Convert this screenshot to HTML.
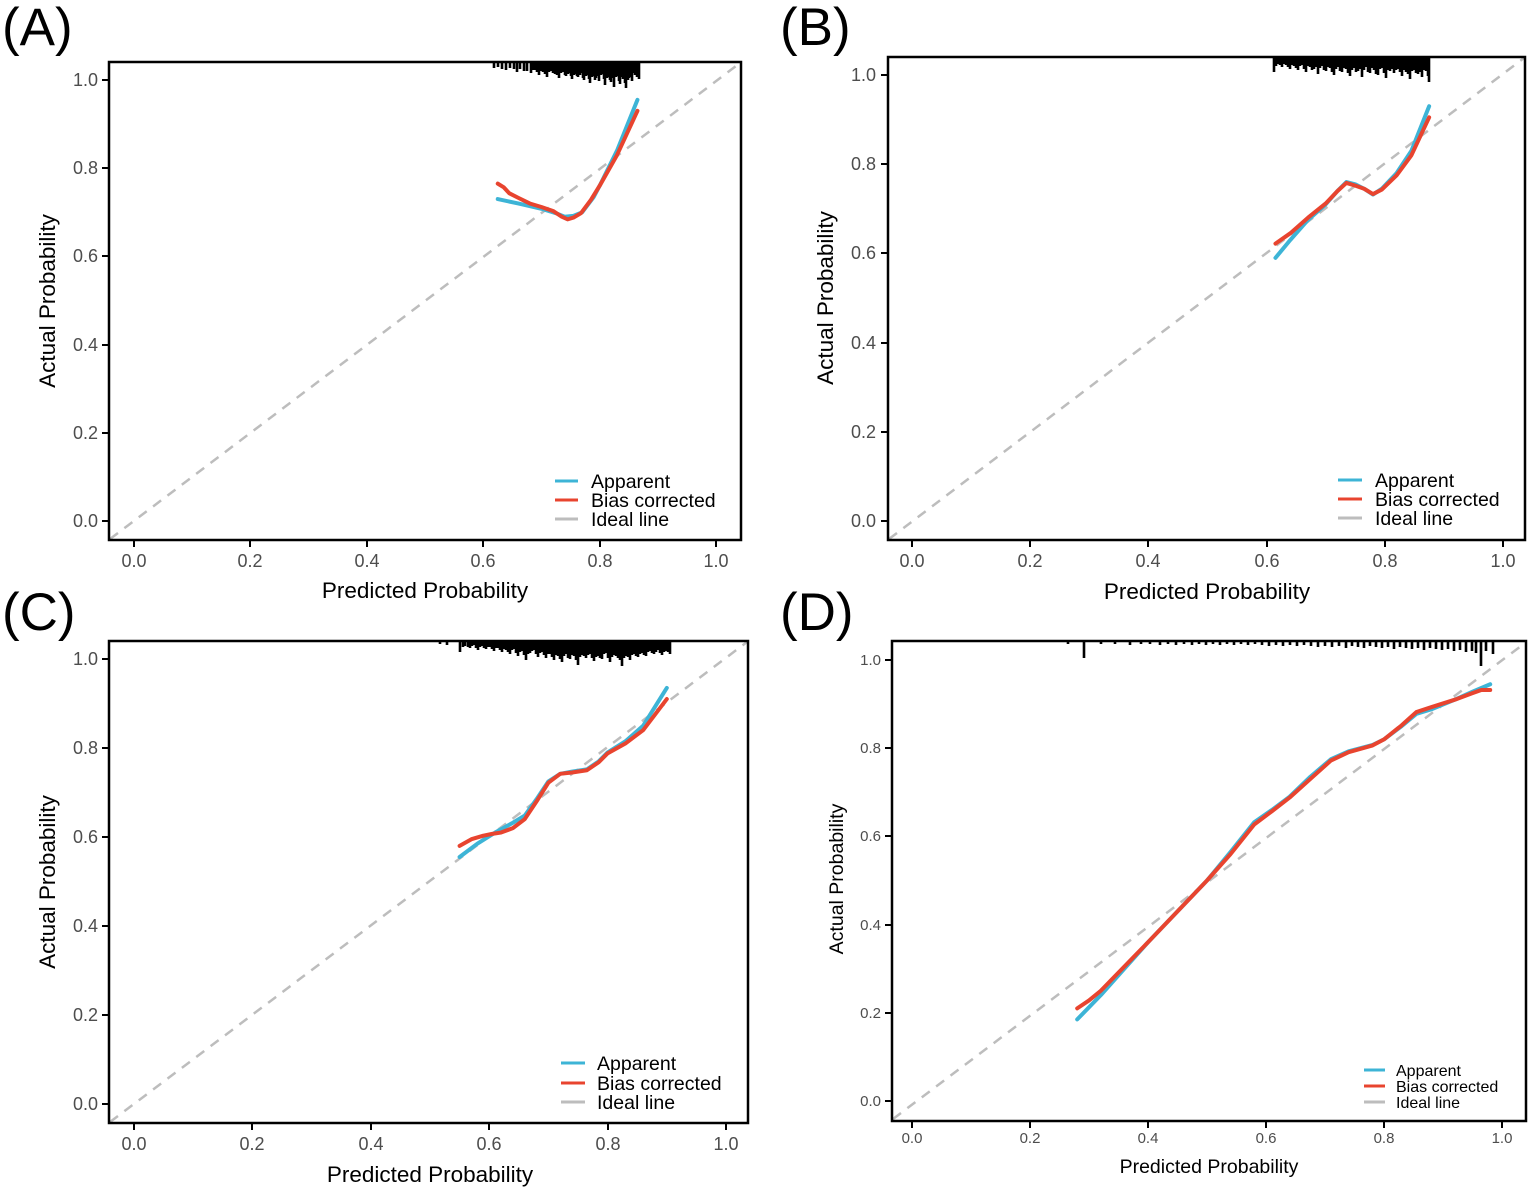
<!DOCTYPE html>
<html><head><meta charset="utf-8"><style>
html,body{margin:0;padding:0;background:#fff}
svg{display:block}
.t{font-family:"Liberation Sans",sans-serif;fill:#4d4d4d}
.l{font-family:"Liberation Sans",sans-serif;fill:#000}
</style></head><body>
<svg width="1535" height="1193" viewBox="0 0 1535 1193" xmlns="http://www.w3.org/2000/svg">
<defs>
<style>
.ap{fill:none;stroke:#3db4d6;stroke-width:4;stroke-linejoin:round;stroke-linecap:round}
.bc{fill:none;stroke:#e8442f;stroke-width:4;stroke-linejoin:round;stroke-linecap:round}
.id{fill:none;stroke:#bdbdbd;stroke-width:2.5;stroke-dasharray:10 8}
.bx{fill:none;stroke:#000;stroke-width:2.5}
.tk{stroke:#000;stroke-width:2}
.rg{stroke:#000;stroke-width:2.6}
</style>
</defs>

<text class="l" x="2" y="45" font-size="53">(A)</text>
<text class="l" x="780" y="45" font-size="53">(B)</text>
<text class="l" x="2" y="630" font-size="53">(C)</text>
<text class="l" x="780" y="630" font-size="53">(D)</text>

<!-- Panel A -->
<g>
<line class="id" x1="110" y1="539" x2="740" y2="63"/>
<g transform="translate(134,521) scale(582,-441)">
<polyline vector-effect="non-scaling-stroke" class="ap" points="0.625,0.73 0.66,0.72 0.70,0.708 0.725,0.698 0.74,0.69 0.755,0.692 0.77,0.70 0.79,0.735 0.80,0.76 0.83,0.84 0.865,0.955"/>
<polyline vector-effect="non-scaling-stroke" class="bc" points="0.625,0.765 0.635,0.757 0.645,0.743 0.66,0.733 0.68,0.72 0.70,0.712 0.72,0.703 0.735,0.69 0.745,0.684 0.755,0.688 0.768,0.698 0.785,0.728 0.80,0.76 0.83,0.83 0.865,0.93"/>
</g>
<path class="rg" d="M494 63v5M498 63v4M502 63v6M506 63v7M510 63v5M514 63v6M517 63v9M520 63v6M524 63v8M527 63v8M531 63v10M533 63v7M535 63v7M537 63v9M539 63v12M541 63v8M543 63v9M545 63v11M547 63v14M549 63v9M551 63v8M553 63v10M555 63v11M557 63v12M559 63v15M561 63v10M563 63v9M565 63v12M566 63v13M568 63v11M569 63v10M571 63v13M572 63v16M574 63v12M575 63v11M577 63v13M578 63v14M580 63v12M581 63v10M583 63v15M584 63v17M586 63v13M587 63v12M589 63v16M590 63v20M592 63v14M593 63v13M595 63v17M596 63v15M598 63v13M599 63v18M601 63v12M602 63v11M604 63v16M605 63v22M607 63v15M608 63v14M610 63v17M611 63v19M613 63v15M614 63v24M616 63v14M617 63v13M619 63v18M620 63v21M622 63v14M623 63v16M625 63v20M626 63v25M628 63v17M629 63v15M631 63v14M632 63v18M634 63v10M635 63v12M637 63v14M639 63v16"/>
<rect class="bx" x="109" y="62" width="632" height="478"/>
<g class="tk"><line x1="134" y1="540" x2="134" y2="547"/><line x1="250" y1="540" x2="250" y2="547"/><line x1="367" y1="540" x2="367" y2="547"/><line x1="483" y1="540" x2="483" y2="547"/><line x1="600" y1="540" x2="600" y2="547"/><line x1="716" y1="540" x2="716" y2="547"/>
<line x1="102" y1="521" x2="109" y2="521"/><line x1="102" y1="433" x2="109" y2="433"/><line x1="102" y1="345" x2="109" y2="345"/><line x1="102" y1="256" x2="109" y2="256"/><line x1="102" y1="168" x2="109" y2="168"/><line x1="102" y1="80" x2="109" y2="80"/></g>
<g class="t" font-size="18" text-anchor="middle"><text x="134" y="567">0.0</text><text x="250" y="567">0.2</text><text x="367" y="567">0.4</text><text x="483" y="567">0.6</text><text x="600" y="567">0.8</text><text x="716" y="567">1.0</text></g>
<g class="t" font-size="18" text-anchor="end"><text x="98" y="527">0.0</text><text x="98" y="439">0.2</text><text x="98" y="351">0.4</text><text x="98" y="262">0.6</text><text x="98" y="174">0.8</text><text x="98" y="86">1.0</text></g>
<text class="l" x="425" y="598" font-size="22.5" text-anchor="middle">Predicted Probability</text>
<text class="l" font-size="22.5" text-anchor="middle" transform="translate(55,301) rotate(-90)">Actual Probability</text>
<line x1="555" y1="481" x2="578" y2="481" stroke="#3db4d6" stroke-width="3"/>
<line x1="555" y1="500" x2="578" y2="500" stroke="#e8442f" stroke-width="3"/>
<line x1="555" y1="519" x2="578" y2="519" stroke="#bdbdbd" stroke-width="3"/>
<g class="l" font-size="19.5"><text x="591" y="488">Apparent</text><text x="591" y="507">Bias corrected</text><text x="591" y="526">Ideal line</text></g>
</g>

<!-- Panel B -->
<g>
<line class="id" x1="889" y1="539" x2="1524" y2="58"/>
<g transform="translate(912,521) scale(591,-446)">
<polyline vector-effect="non-scaling-stroke" class="ap" points="0.615,0.59 0.64,0.63 0.67,0.675 0.70,0.71 0.72,0.74 0.735,0.76 0.75,0.755 0.765,0.745 0.78,0.732 0.795,0.745 0.82,0.78 0.845,0.83 0.875,0.93"/>
<polyline vector-effect="non-scaling-stroke" class="bc" points="0.615,0.622 0.64,0.645 0.67,0.68 0.70,0.712 0.72,0.74 0.735,0.758 0.75,0.752 0.765,0.745 0.78,0.733 0.795,0.743 0.82,0.775 0.845,0.82 0.875,0.905"/>
</g>
<path class="rg" d="M1274 58v14M1276 58v8M1278 58v6M1280 58v7M1282 58v9M1284 58v6M1286 58v7M1288 58v9M1290 58v11M1292 58v7M1294 58v8M1296 58v10M1298 58v12M1300 58v8M1302 58v7M1304 58v11M1306 58v14M1308 58v8M1310 58v9M1312 58v12M1314 58v11M1316 58v9M1318 58v16M1320 58v10M1322 58v8M1324 58v12M1326 58v13M1328 58v9M1330 58v10M1332 58v14M1334 58v17M1336 58v11M1338 58v9M1340 58v13M1342 58v14M1344 58v10M1346 58v11M1348 58v15M1350 58v18M1352 58v12M1354 58v10M1356 58v14M1358 58v13M1360 58v11M1362 58v19M1364 58v12M1366 58v9M1368 58v14M1370 58v15M1372 58v10M1374 58v12M1376 58v16M1378 58v17M1380 58v11M1382 58v10M1384 58v15M1386 58v20M1388 58v12M1390 58v13M1392 58v11M1394 58v15M1396 58v12M1398 58v11M1400 58v14M1402 58v18M1404 58v12M1406 58v14M1408 58v16M1410 58v21M1412 58v13M1414 58v12M1416 58v15M1418 58v16M1420 58v14M1422 58v19M1424 58v12M1426 58v13M1428 58v18M1429 58v24"/>
<rect class="bx" x="888" y="57" width="637" height="483"/>
<g class="tk"><line x1="912" y1="540" x2="912" y2="547"/><line x1="1030" y1="540" x2="1030" y2="547"/><line x1="1148" y1="540" x2="1148" y2="547"/><line x1="1267" y1="540" x2="1267" y2="547"/><line x1="1385" y1="540" x2="1385" y2="547"/><line x1="1503" y1="540" x2="1503" y2="547"/>
<line x1="881" y1="521" x2="888" y2="521"/><line x1="881" y1="432" x2="888" y2="432"/><line x1="881" y1="343" x2="888" y2="343"/><line x1="881" y1="253" x2="888" y2="253"/><line x1="881" y1="164" x2="888" y2="164"/><line x1="881" y1="75" x2="888" y2="75"/></g>
<g class="t" font-size="18" text-anchor="middle"><text x="912" y="567">0.0</text><text x="1030" y="567">0.2</text><text x="1148" y="567">0.4</text><text x="1267" y="567">0.6</text><text x="1385" y="567">0.8</text><text x="1503" y="567">1.0</text></g>
<g class="t" font-size="18" text-anchor="end"><text x="876" y="527">0.0</text><text x="876" y="438">0.2</text><text x="876" y="349">0.4</text><text x="876" y="259">0.6</text><text x="876" y="170">0.8</text><text x="876" y="81">1.0</text></g>
<text class="l" x="1207" y="599" font-size="22.5" text-anchor="middle">Predicted Probability</text>
<text class="l" font-size="22.5" text-anchor="middle" transform="translate(833,298) rotate(-90)">Actual Probability</text>
<line x1="1338" y1="480" x2="1362" y2="480" stroke="#3db4d6" stroke-width="3"/>
<line x1="1338" y1="499" x2="1362" y2="499" stroke="#e8442f" stroke-width="3"/>
<line x1="1338" y1="518" x2="1362" y2="518" stroke="#bdbdbd" stroke-width="3"/>
<g class="l" font-size="19.5"><text x="1375" y="487">Apparent</text><text x="1375" y="506">Bias corrected</text><text x="1375" y="525">Ideal line</text></g>
</g>

<!-- Panel C -->
<g>
<line class="id" x1="110" y1="1122" x2="747" y2="642"/>
<g transform="translate(134,1104) scale(592,-445)">
<polyline vector-effect="non-scaling-stroke" class="ap" points="0.55,0.555 0.58,0.585 0.61,0.61 0.64,0.632 0.66,0.648 0.68,0.685 0.70,0.725 0.72,0.742 0.74,0.747 0.765,0.752 0.785,0.77 0.80,0.79 0.83,0.815 0.86,0.85 0.90,0.935"/>
<polyline vector-effect="non-scaling-stroke" class="bc" points="0.55,0.58 0.57,0.595 0.59,0.603 0.605,0.607 0.62,0.61 0.64,0.62 0.66,0.64 0.68,0.68 0.70,0.722 0.72,0.742 0.74,0.745 0.765,0.75 0.785,0.768 0.80,0.788 0.83,0.81 0.86,0.84 0.90,0.91"/>
</g>
<path class="rg" d="M440 642v2M447 642v3M460 642v10M463 642v5M465 642v4M468 642v5M470 642v6M472 642v4M474 642v3M476 642v6M478 642v8M480 642v5M482 642v4M484 642v6M486 642v7M488 642v5M490 642v5M492 642v7M494 642v9M496 642v6M498 642v6M500 642v8M502 642v10M504 642v7M506 642v8M508 642v10M510 642v12M512 642v8M514 642v7M516 642v11M518 642v14M520 642v10M522 642v9M524 642v13M526 642v18M528 642v12M530 642v11M532 642v9M534 642v8M536 642v12M538 642v15M540 642v11M542 642v10M544 642v13M546 642v16M548 642v12M550 642v12M552 642v15M554 642v18M556 642v13M558 642v14M560 642v17M562 642v20M564 642v14M566 642v12M568 642v16M570 642v17M572 642v13M574 642v14M576 642v18M578 642v23M580 642v15M582 642v13M584 642v14M586 642v16M588 642v13M590 642v12M592 642v16M594 642v19M596 642v15M598 642v14M600 642v16M602 642v17M604 642v12M606 642v11M608 642v16M610 642v20M612 642v15M614 642v13M616 642v14M618 642v16M620 642v18M622 642v24M624 642v16M626 642v14M628 642v15M630 642v18M632 642v13M634 642v12M636 642v14M638 642v15M640 642v12M642 642v11M644 642v13M646 642v14M648 642v10M650 642v9M652 642v11M654 642v12M656 642v10M658 642v8M660 642v11M662 642v13M664 642v10M666 642v9M668 642v10M670 642v12"/>
<rect class="bx" x="109" y="641" width="639" height="482"/>
<g class="tk"><line x1="134" y1="1123" x2="134" y2="1130"/><line x1="252" y1="1123" x2="252" y2="1130"/><line x1="371" y1="1123" x2="371" y2="1130"/><line x1="489" y1="1123" x2="489" y2="1130"/><line x1="608" y1="1123" x2="608" y2="1130"/><line x1="726" y1="1123" x2="726" y2="1130"/>
<line x1="102" y1="1104" x2="109" y2="1104"/><line x1="102" y1="1015" x2="109" y2="1015"/><line x1="102" y1="926" x2="109" y2="926"/><line x1="102" y1="837" x2="109" y2="837"/><line x1="102" y1="748" x2="109" y2="748"/><line x1="102" y1="659" x2="109" y2="659"/></g>
<g class="t" font-size="18" text-anchor="middle"><text x="134" y="1150">0.0</text><text x="252" y="1150">0.2</text><text x="371" y="1150">0.4</text><text x="489" y="1150">0.6</text><text x="608" y="1150">0.8</text><text x="726" y="1150">1.0</text></g>
<g class="t" font-size="18" text-anchor="end"><text x="98" y="1110">0.0</text><text x="98" y="1021">0.2</text><text x="98" y="932">0.4</text><text x="98" y="843">0.6</text><text x="98" y="754">0.8</text><text x="98" y="665">1.0</text></g>
<text class="l" x="430" y="1182" font-size="22.5" text-anchor="middle">Predicted Probability</text>
<text class="l" font-size="22.5" text-anchor="middle" transform="translate(55,882) rotate(-90)">Actual Probability</text>
<line x1="561" y1="1063" x2="585" y2="1063" stroke="#3db4d6" stroke-width="3"/>
<line x1="561" y1="1083" x2="585" y2="1083" stroke="#e8442f" stroke-width="3"/>
<line x1="561" y1="1102" x2="585" y2="1102" stroke="#bdbdbd" stroke-width="3"/>
<g class="l" font-size="19.5"><text x="597" y="1070">Apparent</text><text x="597" y="1090">Bias corrected</text><text x="597" y="1109">Ideal line</text></g>
</g>

<!-- Panel D -->
<g>
<line class="id" x1="893" y1="1119" x2="1525" y2="643"/>
<g transform="translate(912,1101) scale(590,-441)">
<polyline vector-effect="non-scaling-stroke" class="ap" points="0.28,0.185 0.32,0.24 0.36,0.30 0.40,0.36 0.45,0.43 0.50,0.50 0.54,0.565 0.58,0.632 0.61,0.66 0.64,0.69 0.675,0.735 0.71,0.775 0.74,0.793 0.78,0.807 0.80,0.82 0.83,0.85 0.855,0.878 0.88,0.888 0.92,0.91 0.95,0.928 0.98,0.945"/>
<polyline vector-effect="non-scaling-stroke" class="bc" points="0.28,0.21 0.30,0.228 0.32,0.25 0.36,0.305 0.40,0.36 0.45,0.43 0.50,0.50 0.54,0.56 0.58,0.627 0.61,0.657 0.64,0.688 0.675,0.73 0.71,0.772 0.74,0.791 0.78,0.806 0.80,0.82 0.83,0.852 0.855,0.882 0.88,0.893 0.92,0.91 0.95,0.925 0.965,0.932 0.98,0.932"/>
</g>
<path class="rg" d="M1068 642v2M1084 642v16M1101 642v2M1115 642v2M1130 642v3M1141 642v2M1150 642v2M1160 642v3M1168 642v2M1176 642v3M1184 642v2M1192 642v3M1199 642v2M1206 642v3M1213 642v2M1220 642v3M1227 642v2M1234 642v3M1241 642v2M1248 642v3M1255 642v2M1262 642v3M1269 642v4M1276 642v3M1283 642v4M1290 642v3M1297 642v4M1304 642v3M1311 642v4M1318 642v5M1325 642v4M1332 642v5M1339 642v4M1346 642v6M1352 642v4M1358 642v5M1364 642v6M1370 642v4M1376 642v5M1382 642v6M1388 642v5M1394 642v7M1400 642v5M1406 642v6M1412 642v7M1418 642v6M1424 642v8M1430 642v6M1436 642v7M1442 642v8M1448 642v7M1454 642v9M1460 642v8M1466 642v10M1472 642v9M1476 642v11M1481 642v24M1486 642v9M1493 642v12"/>
<rect class="bx" x="892" y="641" width="634" height="480"/>
<g class="tk"><line x1="912" y1="1121" x2="912" y2="1128"/><line x1="1030" y1="1121" x2="1030" y2="1128"/><line x1="1148" y1="1121" x2="1148" y2="1128"/><line x1="1266" y1="1121" x2="1266" y2="1128"/><line x1="1384" y1="1121" x2="1384" y2="1128"/><line x1="1502" y1="1121" x2="1502" y2="1128"/>
<line x1="885" y1="1101" x2="892" y2="1101"/><line x1="885" y1="1013" x2="892" y2="1013"/><line x1="885" y1="925" x2="892" y2="925"/><line x1="885" y1="836" x2="892" y2="836"/><line x1="885" y1="748" x2="892" y2="748"/><line x1="885" y1="660" x2="892" y2="660"/></g>
<g class="t" font-size="15" text-anchor="middle"><text x="912" y="1143">0.0</text><text x="1030" y="1143">0.2</text><text x="1148" y="1143">0.4</text><text x="1266" y="1143">0.6</text><text x="1384" y="1143">0.8</text><text x="1502" y="1143">1.0</text></g>
<g class="t" font-size="15" text-anchor="end"><text x="881" y="1106">0.0</text><text x="881" y="1018">0.2</text><text x="881" y="930">0.4</text><text x="881" y="841">0.6</text><text x="881" y="753">0.8</text><text x="881" y="665">1.0</text></g>
<text class="l" x="1209" y="1173" font-size="19.5" text-anchor="middle">Predicted Probability</text>
<text class="l" font-size="19.5" text-anchor="middle" transform="translate(843,879) rotate(-90)">Actual Probability</text>
<line x1="1364" y1="1070" x2="1385" y2="1070" stroke="#3db4d6" stroke-width="3"/>
<line x1="1364" y1="1086" x2="1385" y2="1086" stroke="#e8442f" stroke-width="3"/>
<line x1="1364" y1="1102" x2="1385" y2="1102" stroke="#bdbdbd" stroke-width="3"/>
<g class="l" font-size="16"><text x="1396" y="1076">Apparent</text><text x="1396" y="1092">Bias corrected</text><text x="1396" y="1108">Ideal line</text></g>
</g>
</svg>
</body></html>
